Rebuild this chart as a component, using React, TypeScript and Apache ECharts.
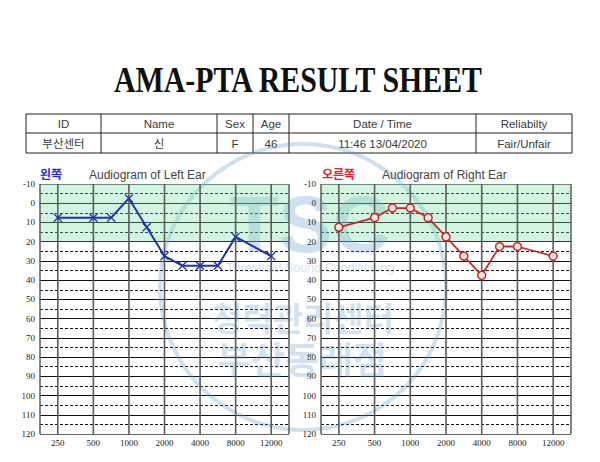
import { useEffect, useRef } from 'react';
import * as echarts from 'echarts';

// Audiometer frequencies printed under each audiogram
const FREQ_TICKS = ['250', '500', '1000', '2000', '4000', '8000', '12000'];
// Frequencies actually tested (half-octave points sit between the printed ones)
const TEST_FREQS = [250, 500, 750, 1000, 1500, 2000, 3000, 4000, 6000, 8000, 12000];
// Hearing thresholds in dB HL
const LEFT_DB = [7.5, 7.5, 7.5, -2.5, 12.5, 27.5, 32.5, 32.5, 32.5, 17.5, 27.5];
const RIGHT_DB = [12.5, 7.5, 2.5, 2.5, 7.5, 17.5, 27.5, 37.5, 22.5, 22.5, 27.5];
const DB_MIN = -10;
const DB_MAX = 120;
const NORMAL_BAND = [-10, 20];

// Patient info table
const TABLE_HEADERS = ['ID', 'Name', 'Sex', 'Age', 'Date / Time', 'Reliabilty'];
const TABLE_VALUES = ['부산센터', '신', 'F', '46', '11:46 13/04/2020', 'Fair/Unfair'];

const SERIF = '"Liberation Serif", "Times New Roman", serif';
const SANS = '"Liberation Sans", "Noto Sans CJK KR", sans-serif';
const KSANS = '"Noto Sans CJK KR", sans-serif';

const tickFreqs = FREQ_TICKS.map(Number);
// Printed frequencies sit on even positions, in-between test points on odd ones
function freqPos(f: number): number {
  const i = tickFreqs.indexOf(f);
  if (i >= 0) return i * 2;
  for (let k = 0; k < tickFreqs.length - 1; k++) {
    if (f > tickFreqs[k] && f < tickFreqs[k + 1]) return k * 2 + 1;
  }
  return (tickFreqs.length - 1) * 2;
}
const X_MIN = -1;
const X_MAX = (tickFreqs.length - 1) * 2 + 1;

const X_MARK = 'path://M0,1L1,0L5,4L9,0L10,1L6,5L10,9L9,10L5,6L1,10L0,9L4,5Z';

function xAxisFor(gridIndex: number) {
  return {
    type: 'value',
    gridIndex,
    min: X_MIN,
    max: X_MAX,
    interval: 1,
    axisLine: { show: false },
    axisTick: { show: false },
    axisLabel: {
      margin: 4,
      fontFamily: SERIF,
      fontSize: 9,
      color: '#222',
      formatter: (v: number) => (v >= 0 && v % 2 === 0 ? FREQ_TICKS[v / 2] ?? '' : ''),
    },
    splitLine: { show: false },
  };
}

function yAxesFor(gridIndex: number) {
  const major: string[] = [];
  for (let v = DB_MIN; v <= DB_MAX; v += 10) {
    major.push(v === DB_MIN || v === DB_MAX ? '#666' : '#111');
  }
  const minor: string[] = [];
  for (let v = DB_MIN; v <= DB_MAX; v += 5) {
    minor.push(v % 10 === 0 ? 'rgba(0,0,0,0)' : '#111');
  }
  return [
    {
      type: 'value',
      gridIndex,
      min: DB_MIN,
      max: DB_MAX,
      interval: 10,
      inverse: true,
      axisLine: { show: false },
      axisTick: { show: false },
      axisLabel: { margin: 5, fontFamily: SERIF, fontSize: 9, color: '#222' },
      splitLine: { show: true, lineStyle: { color: major, width: 1 } },
    },
    {
      type: 'value',
      gridIndex,
      position: 'left',
      min: DB_MIN,
      max: DB_MAX,
      interval: 5,
      inverse: true,
      axisLine: { show: false },
      axisTick: { show: false },
      axisLabel: { show: false },
      splitLine: { show: true, lineStyle: { color: minor, width: 1, type: [3, 2] } },
    },
  ];
}

// Normal-hearing band
function bandSeries(axisIndex: number) {
  return {
    type: 'line',
    xAxisIndex: axisIndex,
    yAxisIndex: axisIndex * 2,
    data: [],
    silent: true,
    markArea: {
      silent: true,
      itemStyle: { color: 'rgba(120,222,165,0.33)' },
      data: [[
        { xAxis: X_MIN, yAxis: NORMAL_BAND[0] },
        { xAxis: X_MAX, yAxis: NORMAL_BAND[1] },
      ]],
    },
  };
}

function tableGraphics() {
  const cols = [26, 101, 217, 253, 289, 476, 572];
  const rows = [114, 133, 153];
  const els: any[] = [];
  rows.forEach((y) => {
    els.push({
      type: 'line',
      shape: { x1: cols[0], y1: y, x2: cols[cols.length - 1], y2: y },
      style: { stroke: '#222', lineWidth: 1 },
    });
  });
  cols.forEach((x) => {
    els.push({
      type: 'line',
      shape: { x1: x, y1: rows[0], x2: x, y2: rows[2] },
      style: { stroke: '#222', lineWidth: 1 },
    });
  });
  const addRow = (texts: string[], cy: number) => {
    texts.forEach((t, i) => {
      els.push({
        type: 'text',
        x: (cols[i] + cols[i + 1]) / 2,
        y: cy,
        style: {
          text: t,
          font: `11.5px ${SANS}`,
          fill: '#3a3a3a',
          align: 'center',
          verticalAlign: 'middle',
        },
      });
    });
  };
  addRow(TABLE_HEADERS, (rows[0] + rows[1]) / 2 + 0.5);
  addRow(TABLE_VALUES, (rows[1] + rows[2]) / 2 + 0.5);
  return els;
}

function watermark() {
  const c = 'rgba(95,155,205,0.30)';
  return {
    type: 'group',
    z: 100,
    silent: true,
    children: [
      {
        type: 'ring',
        shape: { cx: 303, cy: 287, r: 145, r0: 141 },
        style: { fill: c },
      },
      {
        type: 'text',
        x: 310,
        y: 224,
        style: { text: 'TSC', font: `bold 80px ${SANS}`, fill: c, align: 'center', verticalAlign: 'middle' },
      },
      {
        type: 'text',
        x: 310,
        y: 268,
        style: { text: 'Threshold Sound Conditioning', font: `12.5px ${SANS}`, fill: c, align: 'center', verticalAlign: 'middle' },
      },
      {
        type: 'text',
        x: 303,
        y: 317,
        style: { text: '청력관리센터', font: `bold 33px ${KSANS}`, fill: c, align: 'center', verticalAlign: 'middle' },
      },
      {
        type: 'text',
        x: 302,
        y: 358,
        style: { text: '부산동래점', font: `bold 37px ${KSANS}`, fill: c, align: 'center', verticalAlign: 'middle' },
      },
    ],
  };
}

export default function App() {
  const ref = useRef<HTMLDivElement>(null);

  useEffect(() => {
    if (!ref.current) return;
    const chart = echarts.init(ref.current, null, { renderer: 'svg' });

    const leftData = TEST_FREQS.map((f, i) => [freqPos(f), LEFT_DB[i]]);
    const rightData = TEST_FREQS.map((f, i) => [freqPos(f), RIGHT_DB[i]]);

    chart.setOption({
      animation: false,
      backgroundColor: '#fff',
      grid: [
        { left: 40, top: 184, width: 249, height: 250, show: false },
        { left: 321, top: 184, width: 250, height: 250, show: false },
      ],
      xAxis: [xAxisFor(0), xAxisFor(1)],
      yAxis: [...yAxesFor(0), ...yAxesFor(1)],
      series: [
        bandSeries(0),
        bandSeries(1),
        {
          name: 'Left',
          type: 'line',
          xAxisIndex: 0,
          yAxisIndex: 0,
          data: leftData,
          symbol: X_MARK,
          symbolSize: 9,
          lineStyle: { color: '#1f33b3', width: 2 },
          itemStyle: { color: '#1f33b3' },
          z: 10,
        },
        {
          name: 'Right',
          type: 'line',
          xAxisIndex: 1,
          yAxisIndex: 2,
          data: rightData,
          symbol: 'circle',
          symbolSize: 8,
          lineStyle: { color: '#c0302a', width: 1.8 },
          itemStyle: { color: '#f5ebe3', borderColor: '#cc2424', borderWidth: 1.5 },
          z: 10,
        },
      ],
    });

    // Vertical frequency lines and plot borders, placed through each grid's scales
    const verticals: any[] = [];
    [0, 1].forEach((gridIndex) => {
      const positions = [X_MIN, ...FREQ_TICKS.map((_, i) => i * 2), X_MAX];
      positions.forEach((p) => {
        const top = chart.convertToPixel({ gridIndex }, [p, DB_MIN]) as number[];
        const bottom = chart.convertToPixel({ gridIndex }, [p, DB_MAX]) as number[];
        const isBorder = p === X_MIN || p === X_MAX;
        verticals.push({
          type: 'line',
          z: 3,
          silent: true,
          shape: { x1: top[0], y1: top[1], x2: bottom[0], y2: bottom[1] },
          style: { stroke: isBorder ? '#666' : '#5c5c5c', lineWidth: 1.6 },
        });
      });
    });

    chart.setOption({
      graphic: [
        ...verticals,
        {
          type: 'text',
          x: 298,
          y: 80,
          scaleX: 0.83,
          style: {
            text: 'AMA-PTA RESULT SHEET',
            font: `bold 36px ${SERIF}`,
            fill: '#111',
            align: 'center',
            verticalAlign: 'middle',
          },
        },
        ...tableGraphics(),
        {
          type: 'text',
          x: 40,
          y: 173,
          style: { text: '왼쪽', font: `bold 12px ${KSANS}`, fill: '#2a2ae0', verticalAlign: 'middle' },
        },
        {
          type: 'text',
          x: 89,
          y: 175,
          style: { text: 'Audiogram of Left Ear', font: `12px ${SANS}`, fill: '#444', verticalAlign: 'middle' },
        },
        {
          type: 'text',
          x: 322,
          y: 173,
          style: { text: '오른쪽', font: `bold 12px ${KSANS}`, fill: '#ee1c1c', verticalAlign: 'middle' },
        },
        {
          type: 'text',
          x: 382,
          y: 175,
          style: { text: 'Audiogram of Right Ear', font: `12px ${SANS}`, fill: '#444', verticalAlign: 'middle' },
        },
        watermark(),
      ],
    });

    return () => chart.dispose();
  }, []);

  return (
    <div
      ref={ref}
      style={{ position: 'absolute', left: 0, top: 0, width: 600, height: 462 }}
    />
  );
}
